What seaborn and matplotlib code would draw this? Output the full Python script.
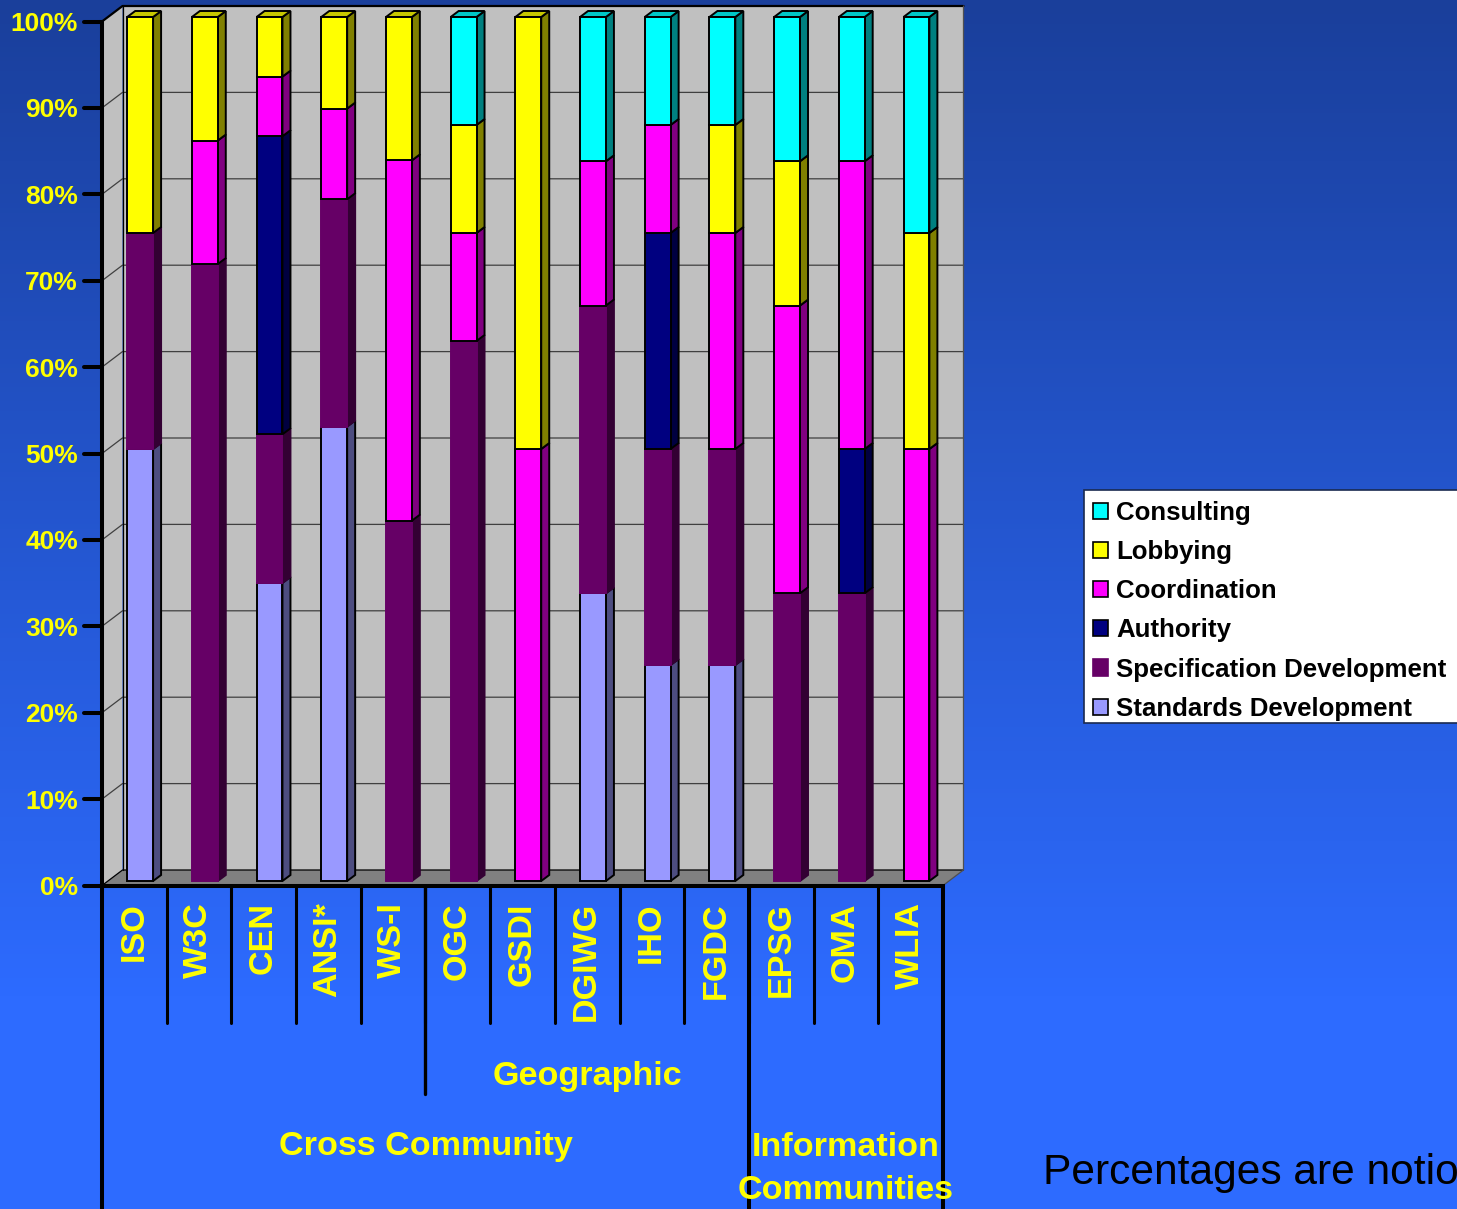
#!/usr/bin/env python3
"""
Stacked 100% column chart of standards organisations by activity,
with the old spreadsheet style fake 3D walls and bar depth.
"""
import numpy as np
import pandas as pd
import seaborn as sns
import matplotlib.pyplot as plt
from matplotlib.markers import MarkerStyle, TICKLEFT
from matplotlib.patches import Patch, Polygon, Rectangle
from matplotlib.transforms import Affine2D

# Data
orgs = ["ISO", "W3C", "CEN", "ANSI*", "WS-I", "OGC", "GSDI", "DGIWG", "IHO", "FGDC", "EPSG", "OMA", "WLIA"]
standards = [50, 0, 34.5, 52.6, 0, 0, 0, 33.3, 25, 25, 0, 0, 0]
specification = [25, 71.4, 17.2, 26.3, 41.7, 62.5, 0, 33.3, 25, 25, 33.3, 33.3, 0]
authority = [0, 0, 34.5, 0, 0, 0, 0, 0, 25, 0, 0, 16.7, 0]
coordination = [0, 14.3, 6.9, 10.5, 41.7, 12.5, 50, 16.7, 12.5, 25, 33.3, 33.3, 50]
lobbying = [25, 14.3, 6.9, 10.6, 16.6, 12.5, 50, 0, 0, 12.5, 16.7, 0, 25]
consulting = [0, 0, 0, 0, 0, 12.5, 0, 16.7, 12.5, 12.5, 16.7, 16.7, 25]

series_names = ["Standards Development", "Specification Development", "Authority",
                "Coordination", "Lobbying", "Consulting"]
series_values = [standards, specification, authority, coordination, lobbying, consulting]
series_colors = ["#9999FF", "#660066", "#000080", "#FF00FF", "#FFFF00", "#00FFFF"]

y_ticks = [0, 10, 20, 30, 40, 50, 60, 70, 80, 90, 100]
group_labels = ["Cross Community", "Geographic", "Information\nCommunities"]
footnote = "Percentages are notio"

# Figure layout, in pixels of the 1457x1209 canvas
WIDTH, HEIGHT = 1457, 1209
PLOT_LEFT, PLOT_RIGHT = 102, 943
PLOT_TOP, PLOT_BOTTOM = 21.5, 885.5
YELLOW = "#FFFF00"
FONT = "Liberation Sans"


def shade(color, factor):
    r, g, b = plt.matplotlib.colors.to_rgb(color)
    return (r * factor, g * factor, b * factor)


def main():
    sns.set_theme(style="white")
    plt.rcParams["font.family"] = [FONT, "DejaVu Sans"]

    fig = plt.figure(figsize=(WIDTH / 100, HEIGHT / 100), dpi=100)

    # Blue gradient behind everything, flat from about y=1000 down
    ax_bg = fig.add_axes([0, 0, 1, 1], zorder=-1)
    top_rgb = np.array([0x1A, 0x3F, 0x9B]) / 255
    bottom_rgb = np.array([0x2D, 0x6B, 0xFF]) / 255
    t = np.clip(np.linspace(0, HEIGHT / 1000, 256), 0, 1)[:, None, None]
    ax_bg.imshow(top_rgb * (1 - t) + bottom_rgb * t, aspect="auto", extent=[0, 1, 0, 1])
    ax_bg.axis("off")

    ax = fig.add_axes([PLOT_LEFT / WIDTH, (HEIGHT - PLOT_BOTTOM) / HEIGHT,
                       (PLOT_RIGHT - PLOT_LEFT) / WIDTH, (PLOT_BOTTOM - PLOT_TOP) / HEIGHT])
    ax.patch.set_visible(False)

    # Stacked bars, one seaborn call per series
    df = pd.DataFrame(dict(zip(series_names, series_values)), index=orgs)
    bottoms = np.zeros(len(orgs))
    stacks = []
    for name, color in zip(series_names, series_colors):
        edge = color if name == "Specification Development" else "black"
        before = len(ax.patches)
        sns.barplot(x=orgs, y=df[name].values, color=color, saturation=1, width=0.4,
                    bottom=bottoms, errorbar=None, edgecolor=edge, linewidth=1.4, ax=ax)
        stacks.append((color, edge, ax.patches[before:]))
        bottoms = bottoms + df[name].values

    ax.set_xlim(-0.5, len(orgs) - 0.5)
    ax.set_ylim(0, 100)

    px_x = (PLOT_RIGHT - PLOT_LEFT) / len(orgs)  # pixels per category
    px_y = (PLOT_BOTTOM - PLOT_TOP) / 100  # pixels per percent

    def y_at(pixel):
        return (PLOT_BOTTOM - pixel) / px_y

    # Walls and floor
    wall_dx, wall_dy = 20.5 / px_x, 15.5 / px_y
    x0, x1 = -0.5, len(orgs) - 0.5
    wall_kw = dict(clip_on=False, linewidth=0, zorder=0.5)
    ax.add_patch(Polygon([(x0, 0), (x0 + wall_dx, wall_dy), (x0 + wall_dx, 100 + wall_dy), (x0, 100)],
                         facecolor="#C0C0C0", **wall_kw))
    ax.add_patch(Rectangle((x0 + wall_dx, wall_dy), x1 - x0, 100, facecolor="#C0C0C0", **wall_kw))
    ax.add_patch(Polygon([(x0, 0), (x0 + wall_dx, wall_dy), (x1 + wall_dx, wall_dy), (x1, 0)],
                         facecolor="#808080", **wall_kw))
    for tick in y_ticks:
        grid_color = "black" if tick in (0, 100) else "#404040"
        grid_lw = 1.6 if tick == 100 else 0.9
        ax.plot([x0, x0 + wall_dx, x1 + wall_dx], [tick, tick + wall_dy, tick + wall_dy],
                color=grid_color, lw=grid_lw, clip_on=False, zorder=0.6)
    ax.plot([x0 + wall_dx, x0 + wall_dx], [wall_dy, 100 + wall_dy], color="black", lw=0.9,
            clip_on=False, zorder=0.6)
    ax.plot([x1 + wall_dx, x1 + wall_dx, x1], [100 + wall_dy, wall_dy, 0], color="#505050", lw=0.9,
            clip_on=False, zorder=0.6)

    # Bars sit part way into the depth, then get their side and top faces
    bar_trans = ax.transData + Affine2D().translate(5.8, 4.5)
    bar_dx, bar_dy = 8 / px_x, 6 / px_y
    for color, edge, patches in stacks:
        for patch in patches:
            h = patch.get_height()
            if h == 0:
                patch.remove()
                continue
            patch.set_transform(bar_trans)
            patch.set_clip_on(False)
            patch.set_zorder(3)
            left = patch.get_x()
            right = left + patch.get_width()
            low = patch.get_y()
            high = low + h
            ax.add_patch(Polygon([(right, low), (right + bar_dx, low + bar_dy),
                                  (right + bar_dx, high + bar_dy), (right, high)],
                                 facecolor=shade(color, 0.5), edgecolor=edge if edge == "black" else shade(color, 0.5),
                                 linewidth=1.4, transform=bar_trans, clip_on=False, zorder=2.9))
            if high > 99.9:
                ax.add_patch(Polygon([(left, high), (left + bar_dx, high + bar_dy),
                                      (right + bar_dx, high + bar_dy), (right, high)],
                                     facecolor=shade(color, 0.78), edgecolor="black",
                                     linewidth=1.4, transform=bar_trans, clip_on=False, zorder=2.9))

    # Axis lines and ticks
    sns.despine(ax=ax, top=True, right=True)
    for side in ("left", "bottom"):
        ax.spines[side].set_linewidth(2.9)
        ax.spines[side].set_color("black")
        ax.spines[side].set_zorder(4)

    ax.set_yticks(y_ticks)
    ax.set_yticklabels([f"{v}%" for v in y_ticks], color=YELLOW, fontsize=19, fontweight="bold", family=FONT)
    ax.tick_params(axis="y", left=True, length=13, width=2.9, color="black", pad=4.2)
    for tick in ax.yaxis.get_major_ticks():
        tick.tick1line.set_marker(MarkerStyle(TICKLEFT, capstyle="round"))

    ax.set_xticks(range(len(orgs)))
    ax.set_xticklabels(orgs, rotation=90, color=YELLOW, fontsize=24.6, fontweight="bold", family=FONT)
    ax.tick_params(axis="x", bottom=False, pad=6)
    ax.set_xlabel("")
    ax.set_ylabel("")
    for label in ax.get_xticklabels():
        label.set_transform(label.get_transform() + Affine2D().translate(-0.5, 0))

    # Multi level category axis: separators, then group names
    line_kw = dict(color="black", clip_on=False, solid_capstyle="round", zorder=4)
    for i in range(1, len(orgs)):
        ax.plot([i - 0.5, i - 0.5], [0, y_at(1023)], lw=2.2, **line_kw)
    ax.plot([4.5, 4.5], [0, y_at(1094)], lw=2.4, **line_kw)
    for x in (-0.5, 9.5, 12.5):
        ax.plot([x, x], [0, y_at(1215)], lw=2.9, **line_kw)

    group_text = dict(color=YELLOW, fontsize=24.6, fontweight="bold", family=FONT,
                      ha="center", clip_on=False, zorder=5)
    ax.text(4.5, y_at(1147), group_labels[0], va="center", **group_text)
    ax.text(7, y_at(1077), group_labels[1], va="center", **group_text)
    ax.text(11, y_at(1169), group_labels[2], va="center", linespacing=1.52, **group_text)

    # Legend box runs off the right side of the canvas
    fig.add_artist(Rectangle((1084 / WIDTH, (HEIGHT - 723) / HEIGHT), 400 / WIDTH, 233 / HEIGHT,
                             transform=fig.transFigure, facecolor="white", edgecolor="#1A2A50",
                             linewidth=1.2, zorder=1))
    handles = []
    for name, color in zip(series_names[::-1], series_colors[::-1]):
        edge = color if name == "Specification Development" else "black"
        handles.append(Patch(facecolor=color, edgecolor=edge, linewidth=1.2, label=name))
    fig.legend(handles=handles, loc="upper left", bbox_to_anchor=(1093 / WIDTH, (HEIGHT - 501) / HEIGHT),
               frameon=False, borderpad=0, borderaxespad=0, handlelength=0.58, handleheight=0.58,
               handletextpad=0.31, labelspacing=0.585,
               prop={"family": FONT, "weight": "bold", "size": 18.65}, labelcolor="black")

    fig.text(1043 / WIDTH, (HEIGHT - 1184) / HEIGHT, footnote, color="black", fontsize=30.6, family=FONT)

    fig.savefig("out.png", dpi=100)


if __name__ == "__main__":
    main()
